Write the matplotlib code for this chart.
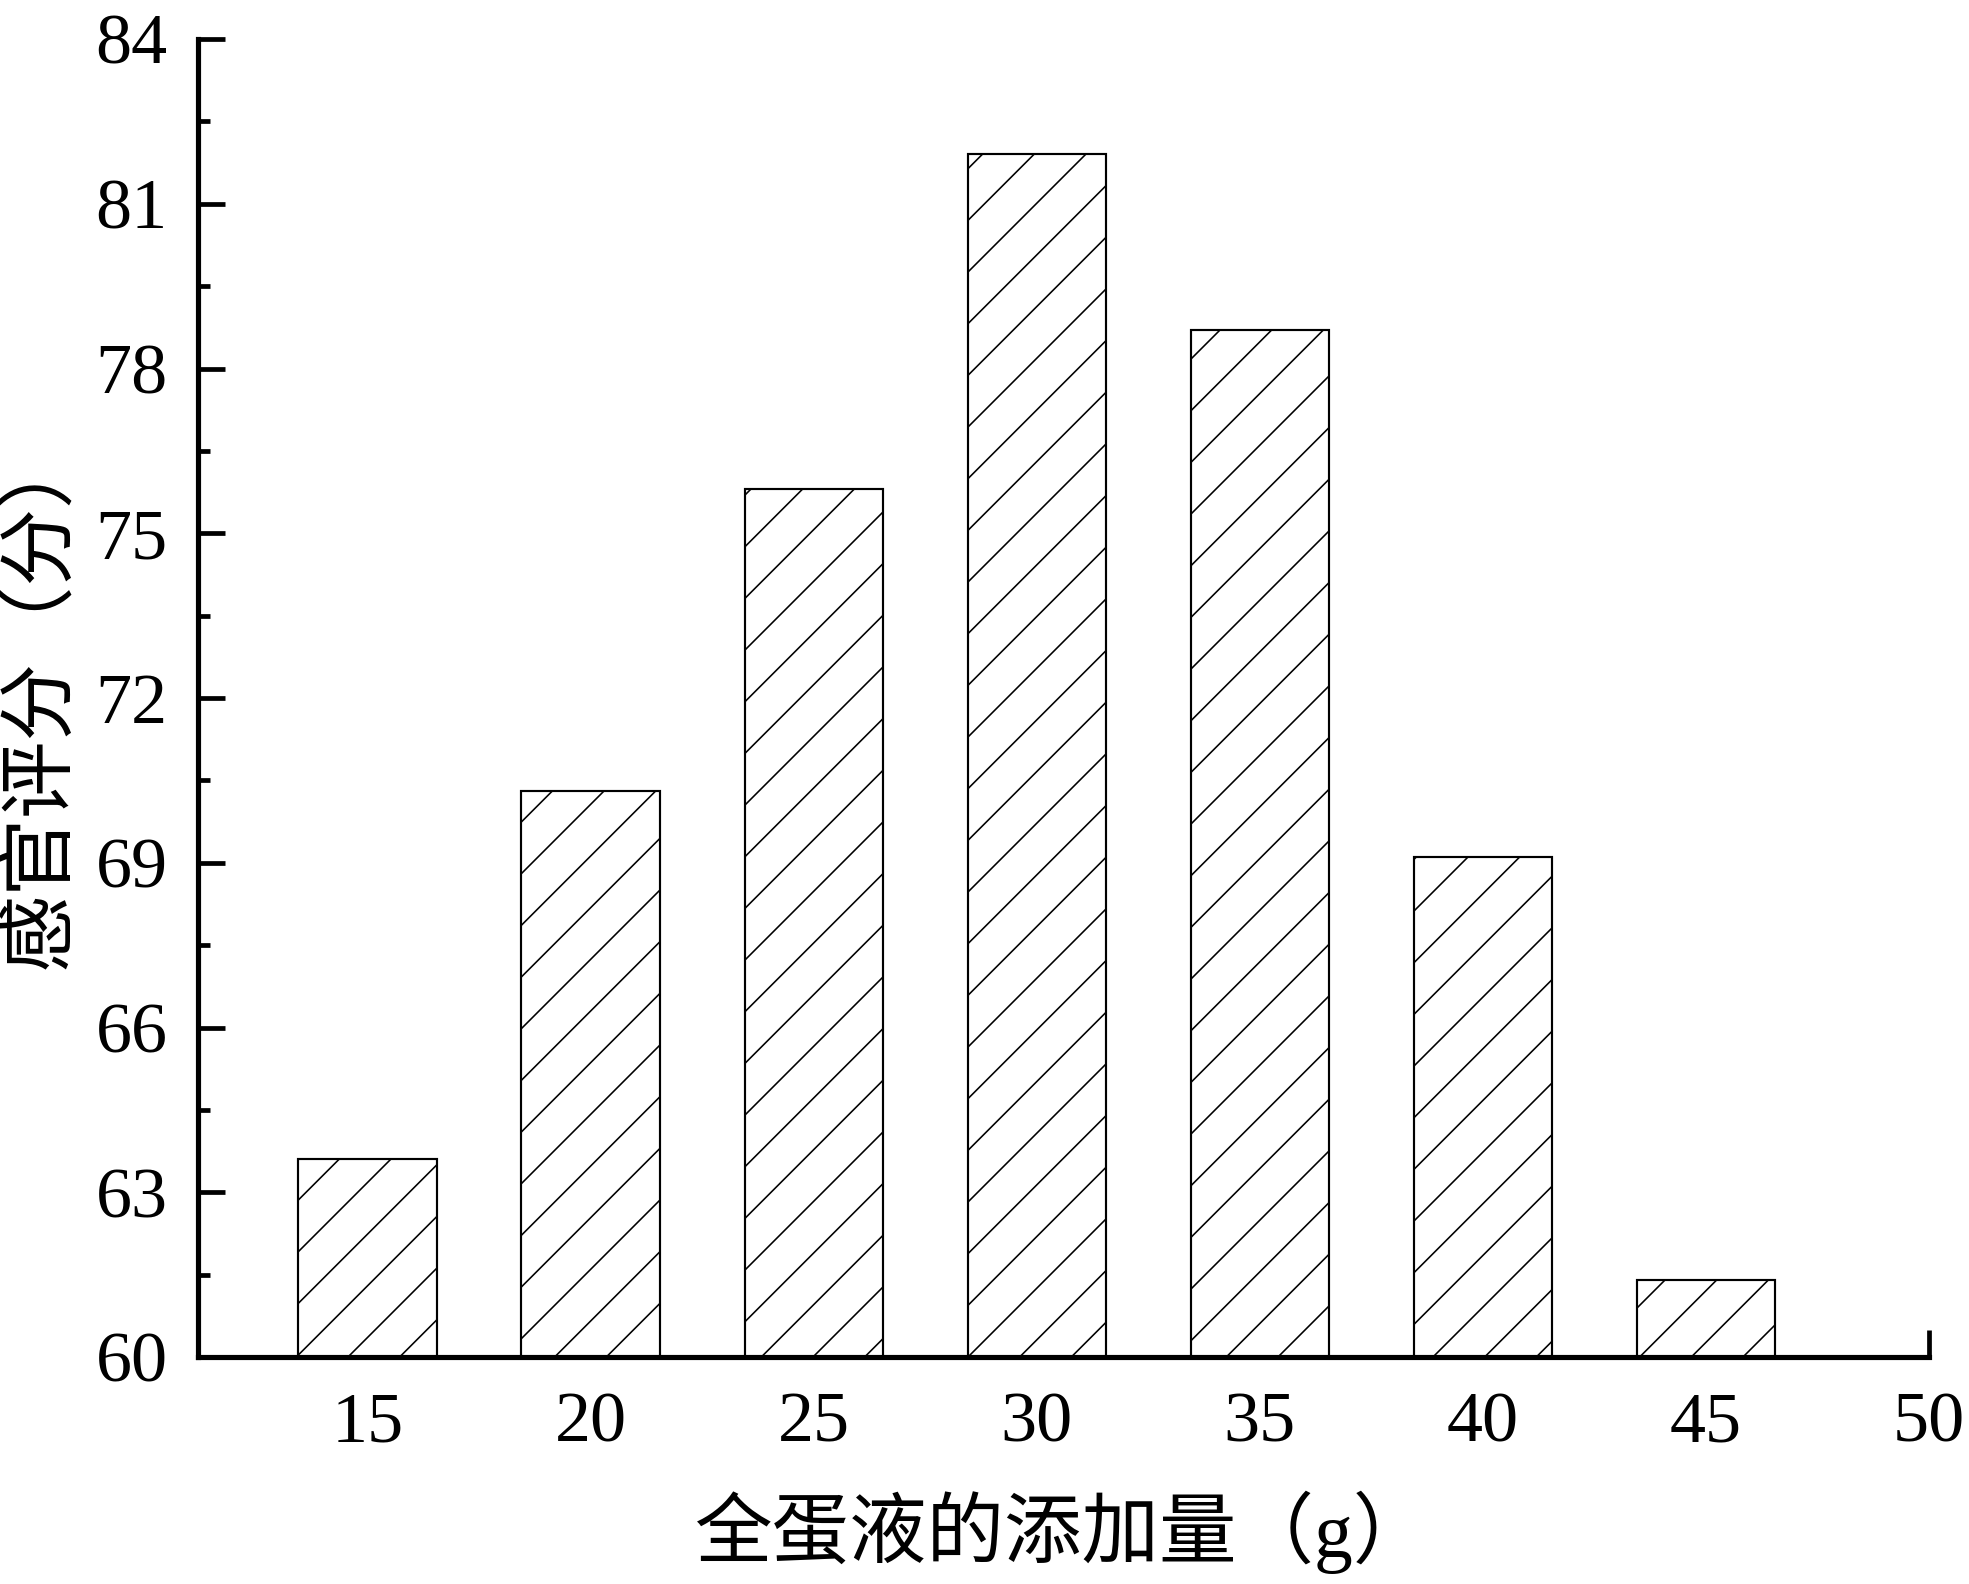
import matplotlib
matplotlib.use("Agg")
import matplotlib.pyplot as plt
from matplotlib.ticker import MultipleLocator

# Data
amounts = [15, 20, 25, 30, 35, 40, 45]
scores = [63.6, 70.3, 75.8, 81.9, 78.7, 69.1, 61.4]
xticks = [15, 20, 25, 30, 35, 40, 45, 50]
yticks = [60, 63, 66, 69, 72, 75, 78, 81, 84]
xlabel = "全蛋液的添加量（g）"
ylabel = "感官评分（分）"

DPI = 155
W, H = 1969, 1584
plt.rcParams['hatch.linewidth'] = 0.75
plt.rcParams['hatch.color'] = 'black'
fam = ['Liberation Serif', 'Noto Sans CJK SC']
plt.rcParams['font.family'] = fam

fig = plt.figure(figsize=(W / DPI, H / DPI), dpi=DPI)
ax = fig.add_axes([198 / W, 1 - 1357 / H, (1929 - 198) / W, (1357 - 39) / H])

ax.bar(amounts, [s - 60 for s in scores], bottom=60, width=3.1,
       facecolor='white', edgecolor='black', linewidth=1.0, hatch='/', zorder=2)

ax.set_xlim(11.2, 50)
ax.set_ylim(60, 84)
ax.set_xticks(xticks)
ax.set_yticks(yticks)
ax.yaxis.set_minor_locator(MultipleLocator(1.5))

for s in ['top', 'right']:
    ax.spines[s].set_visible(False)
for s in ['left', 'bottom']:
    ax.spines[s].set_linewidth(2.4)
    ax.spines[s].set_zorder(3)

ax.tick_params(axis='both', which='major', direction='in', length=12.5, width=2.2,
               labelsize=33.5)
ax.tick_params(axis='y', which='minor', direction='in', length=5.5, width=2.2)
ax.tick_params(axis='x', which='minor', bottom=False)
ax.tick_params(axis='x', which='major', pad=16)
ax.tick_params(axis='y', which='major', pad=14)

ax.set_xlabel(xlabel, fontsize=36, labelpad=16)
ax.set_ylabel(ylabel, fontsize=36, labelpad=8)

fig.savefig("out.png", dpi=DPI, facecolor='white')
